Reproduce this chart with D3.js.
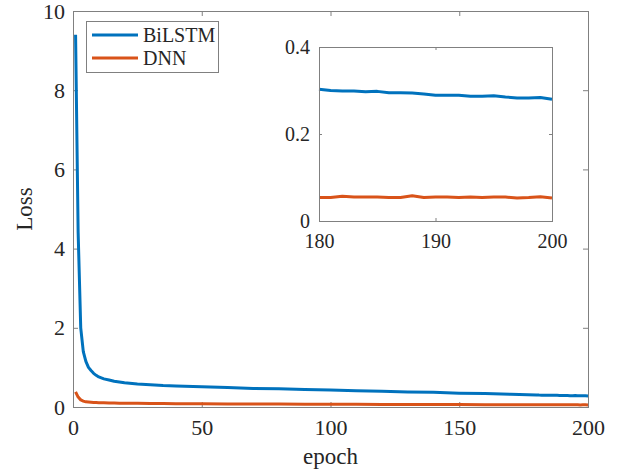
<!DOCTYPE html>
<meta charset="utf-8">
<script src="https://cdn.jsdelivr.net/npm/d3@7"></script>
<style>
    body { margin: 0; background: #fff; }
    text { font-family: "Liberation Serif", "Times New Roman", serif; fill: #262626; }
    .frame { fill: none; stroke: #808080; stroke-width: 1; }
    .tick line { stroke: #808080; }
    .domain { display: none; }
</style>
<body>
<script>
    const serif = '"Liberation Serif", "Times New Roman", serif';

    // training loss per epoch
    const epochs = [1, 2, 3, 4, 5, 6, 7, 8, 9, 10, 12, 14, 16, 18, 20, 25, 30, 35, 40, 50,
        60, 70, 80, 90, 100, 110, 120, 130, 140, 150, 160, 170,
        180, 181, 182, 183, 184, 185, 186, 187, 188, 189, 190,
        191, 192, 193, 194, 195, 196, 197, 198, 199, 200];
    const bilstm = [9.4, 4.4, 2.0, 1.4, 1.15, 1.0, 0.92, 0.85, 0.8, 0.76, 0.71, 0.68, 0.65, 0.63, 0.61, 0.58, 0.56, 0.54, 0.53, 0.51,
        0.49, 0.47, 0.46, 0.44, 0.43, 0.41, 0.40, 0.38, 0.37, 0.35, 0.34, 0.32,
        0.303, 0.300, 0.299, 0.299, 0.297, 0.298, 0.295, 0.295, 0.294, 0.292, 0.289,
        0.289, 0.289, 0.287, 0.287, 0.288, 0.285, 0.283, 0.283, 0.284, 0.280];
    const dnn = [0.38, 0.25, 0.18, 0.15, 0.13, 0.125, 0.12, 0.115, 0.112, 0.11, 0.105, 0.1, 0.098, 0.096, 0.095, 0.092, 0.09, 0.087, 0.085, 0.08,
        0.078, 0.075, 0.073, 0.071, 0.07, 0.068, 0.066, 0.064, 0.062, 0.06, 0.058, 0.057,
        0.054, 0.054, 0.057, 0.055, 0.055, 0.055, 0.054, 0.054, 0.058, 0.054, 0.055,
        0.055, 0.054, 0.055, 0.054, 0.055, 0.055, 0.053, 0.054, 0.056, 0.053];
    const seriesNames = ["BiLSTM", "DNN"];
    const colors = ["#0072BD", "#D95319"];

    const xTicks = [0, 50, 100, 150, 200];
    const yTicks = [0, 2, 4, 6, 8, 10];
    const insetXTicks = [180, 190, 200];
    const insetYTicks = [0, 0.2, 0.4];

    const W = 622, H = 473;
    const svg = d3.select("body").append("svg")
        .attr("width", W)
        .attr("height", H);

    const series = [bilstm, dnn].map((vals, i) => ({
        name: seriesNames[i],
        color: colors[i],
        points: epochs.map((e, j) => [e, vals[j]])
    }));

    // MATLAB-like axes box, ticks pointing inward on all four sides
    function drawAxes(g, x, y, opt) {
        const [x0, x1] = x.range();
        const [y0, y1] = y.range();
        const t = opt.tickLen;
        g.append("rect").attr("x", x0).attr("y", y1)
            .attr("width", x1 - x0).attr("height", y0 - y1)
            .attr("fill", "#fff");

        const style = a => a.attr("font-family", serif).attr("font-size", opt.fontSize)
            .selectAll("text")
            .style("font-family", serif)
            .style("font-size", opt.fontSize + "px")
            .attr("fill", "#262626");

        g.append("g").attr("transform", `translate(0,${y0})`)
            .call(d3.axisBottom(x).tickValues(opt.xt).tickSize(-t).tickPadding(opt.xPad).tickFormat(opt.xFmt))
            .call(style);
        g.append("g").attr("transform", `translate(0,${y1})`)
            .call(d3.axisTop(x).tickValues(opt.xt).tickSize(-t).tickFormat(""));
        g.append("g").attr("transform", `translate(${x0},0)`)
            .call(d3.axisLeft(y).tickValues(opt.yt).tickSize(-t).tickPadding(opt.yPad).tickFormat(opt.yFmt))
            .call(style);
        g.append("g").attr("transform", `translate(${x1},0)`)
            .call(d3.axisRight(y).tickValues(opt.yt).tickSize(-t).tickFormat(""));
    }

    function drawFrame(g, x, y) {
        const [x0, x1] = x.range();
        const [y0, y1] = y.range();
        g.append("rect").attr("class", "frame")
            .attr("x", x0 + 0.5).attr("y", y1 + 0.5)
            .attr("width", x1 - x0).attr("height", y0 - y1);
    }

    // main axes
    const x = d3.scaleLinear().domain([0, 200]).range([73, 588]);
    const y = d3.scaleLinear().domain([0, 10]).range([407, 11]);
    const main = svg.append("g");
    drawAxes(main, x, y, {
        xt: xTicks, yt: yTicks, tickLen: 5, fontSize: 22,
        xPad: 12, yPad: 8, xFmt: d3.format("d"), yFmt: d3.format("d")
    });

    const line = d3.line().x(d => x(d[0])).y(d => y(d[1]));
    main.selectAll("path.series")
        .data(series.slice().reverse())
        .enter().append("path")
        .attr("class", "series")
        .attr("d", d => line(d.points))
        .attr("fill", "none")
        .attr("stroke", d => d.color)
        .attr("stroke-width", 3)
        .attr("stroke-linejoin", "round");
    drawFrame(main, x, y);

    main.append("text")
        .attr("x", (x.range()[0] + x.range()[1]) / 2)
        .attr("y", 464)
        .attr("text-anchor", "middle")
        .style("font-size", "23px")
        .text("epoch");
    main.append("text")
        .attr("transform", `translate(32,${(y.range()[0] + y.range()[1]) / 2}) rotate(-90)`)
        .attr("text-anchor", "middle")
        .style("font-size", "23px")
        .text("Loss");

    // legend
    const leg = main.append("g").attr("transform", "translate(86,21)");
    leg.append("rect").attr("x", 0.5).attr("y", 0.5)
        .attr("width", 132).attr("height", 51)
        .attr("fill", "#fff").attr("stroke", "#808080");
    series.forEach((s, i) => {
        const cy = 14 + i * 23;
        leg.append("line").attr("x1", 6).attr("x2", 52)
            .attr("y1", cy).attr("y2", cy)
            .attr("stroke", s.color).attr("stroke-width", 3);
        leg.append("text").attr("x", 57).attr("y", cy + 7)
            .style("font-size", "20px")
            .text(s.name);
    });

    // inset: last 20 epochs
    const xi = d3.scaleLinear().domain([180, 200]).range([319, 552]);
    const yi = d3.scaleLinear().domain([0, 0.4]).range([221, 47]);
    const inset = svg.append("g");
    drawAxes(inset, xi, yi, {
        xt: insetXTicks, yt: insetYTicks, tickLen: 3, fontSize: 20,
        xPad: 13, yPad: 9, xFmt: d3.format("d"), yFmt: d3.format(".1~f")
    });
    const lineI = d3.line().x(d => xi(d[0])).y(d => yi(d[1]));
    inset.selectAll("path.series")
        .data(series.slice().reverse())
        .enter().append("path")
        .attr("class", "series")
        .attr("d", d => lineI(d.points.filter(p => p[0] >= 180)))
        .attr("fill", "none")
        .attr("stroke", d => d.color)
        .attr("stroke-width", 3)
        .attr("stroke-linejoin", "round");
    drawFrame(inset, xi, yi);
</script>
</body>
</html>
